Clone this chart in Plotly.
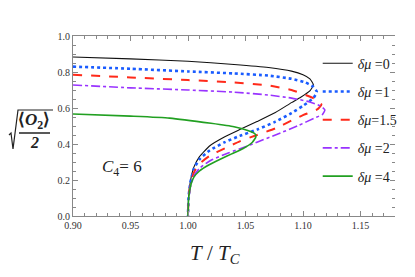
import plotly.graph_objects as go

# ---- data ----
T_dmu0 = [0.90, 0.95, 1.00, 1.04, 1.07, 1.09, 1.100, 1.106, 1.109, 1.106, 1.098, 1.090, 1.076, 1.060, 1.045, 1.032, 1.019, 1.010, 1.005, 1.002, 1.0005, 1.000]
v_dmu0 = [0.883, 0.873, 0.860, 0.842, 0.825, 0.805, 0.785, 0.762, 0.728, 0.695, 0.660, 0.630, 0.575, 0.525, 0.480, 0.440, 0.390, 0.330, 0.270, 0.190, 0.110, 0.0]

T_dmu1 = [0.90, 0.95, 1.00, 1.04, 1.07, 1.09, 1.102, 1.109, 1.112, 1.109, 1.100, 1.090, 1.076, 1.060, 1.045, 1.032, 1.019, 1.010, 1.005, 1.002, 1.0005, 1.000]
v_dmu1 = [0.830, 0.818, 0.803, 0.792, 0.780, 0.762, 0.742, 0.718, 0.690, 0.655, 0.612, 0.572, 0.524, 0.480, 0.445, 0.410, 0.365, 0.315, 0.260, 0.185, 0.105, 0.0]

T_dmu15 = [0.90, 0.95, 1.00, 1.04, 1.07, 1.09, 1.104, 1.112, 1.116, 1.113, 1.100, 1.090, 1.076, 1.060, 1.045, 1.032, 1.019, 1.010, 1.005, 1.002, 1.0005, 1.000]
v_dmu15 = [0.785, 0.770, 0.755, 0.742, 0.725, 0.700, 0.668, 0.645, 0.620, 0.595, 0.560, 0.530, 0.487, 0.450, 0.415, 0.376, 0.335, 0.290, 0.240, 0.170, 0.100, 0.0]

T_dmu2 = [0.90, 0.95, 1.00, 1.04, 1.07, 1.09, 1.105, 1.115, 1.119, 1.117, 1.110, 1.095, 1.076, 1.060, 1.050, 1.035, 1.020, 1.010, 1.005, 1.002, 1.0005, 1.000]
v_dmu2 = [0.728, 0.712, 0.700, 0.688, 0.672, 0.655, 0.635, 0.612, 0.589, 0.565, 0.544, 0.500, 0.450, 0.410, 0.385, 0.350, 0.310, 0.265, 0.220, 0.160, 0.090, 0.0]

T_dmu4 = [0.90, 0.95, 0.984, 1.02, 1.040, 1.052, 1.058, 1.059, 1.056, 1.048, 1.038, 1.028, 1.018, 1.010, 1.005, 1.002, 1.0005, 1.000]
v_dmu4 = [0.567, 0.555, 0.544, 0.515, 0.496, 0.475, 0.458, 0.440, 0.410, 0.375, 0.345, 0.315, 0.283, 0.250, 0.215, 0.160, 0.090, 0.0]

series_names = ["<i>δμ</i> =0", "<i>δμ</i> =1", "<i>δμ</i>=1.5", "<i>δμ</i> =2", "<i>δμ</i> =4"]
x_ticks = [0.90, 0.95, 1.00, 1.05, 1.10, 1.15]
x_ticklabels = ["0.90", "0.95", "1.00", "1.05", "1.10", "1.15"]
y_ticks = [0.0, 0.2, 0.4, 0.6, 0.8, 1.0]
y_ticklabels = ["0.0", "0.2", "0.4", "0.6", "0.8", "1.0"]

styles = [
    dict(color="#111111", width=1.1, dash="solid"),
    dict(color="#1a5cff", width=2.6, dash="dot"),
    dict(color="#ff2a1a", width=2.0, dash="dash"),
    dict(color="#9933ff", width=1.6, dash="dashdot"),
    dict(color="#22a022", width=1.6, dash="solid"),
]

data = [(T_dmu0, v_dmu0), (T_dmu1, v_dmu1), (T_dmu15, v_dmu15), (T_dmu2, v_dmu2), (T_dmu4, v_dmu4)]

SERIF = "Liberation Serif"
OFF = 8  # page body margin of the browser

fig = go.Figure()
for i, ((tx, vy), name, st) in enumerate(zip(data, series_names, styles)):
    fig.add_trace(go.Scatter(
        x=tx, y=vy, mode="lines", name=name, legendgroup=f"g{i}",
        line=dict(color=st["color"], width=st["width"], dash=st["dash"], shape="spline", smoothing=0.5),
    ))

# invisible trace for right-side ticks only
fig.add_trace(go.Scatter(x=[0.9], y=[0], yaxis="y2", mode="markers",
                         marker=dict(opacity=0), showlegend=False, hoverinfo="skip"))

axis_col = "#888888"
fig.update_layout(
    width=415 - OFF, height=277 - OFF,
    margin=dict(l=73 - OFF, r=20, t=36 - OFF, b=61),
    paper_bgcolor="white", plot_bgcolor="white",
    font=dict(family=SERIF, color="#333333"),
    xaxis=dict(range=[0.90, 1.18], tickvals=x_ticks, ticktext=x_ticklabels,
               ticks="inside", ticklen=5, tickcolor=axis_col, tickwidth=1,
               showline=True, linecolor=axis_col, linewidth=1, mirror="ticks",
               showgrid=False, zeroline=False,
               tickfont=dict(family=SERIF, size=10, color="#333333"),
               minor=dict(dtick=0.01, tick0=0.90, ticks="inside", ticklen=3, tickcolor=axis_col, showgrid=False)),
    yaxis=dict(range=[0, 1.0], tickvals=y_ticks, ticktext=y_ticklabels,
               ticks="inside", ticklen=5, tickcolor=axis_col, tickwidth=1,
               showline=True, linecolor=axis_col, linewidth=1,
               showgrid=False, zeroline=False,
               tickfont=dict(family=SERIF, size=10, color="#333333"),
               minor=dict(dtick=0.05, tick0=0, ticks="inside", ticklen=3, tickcolor=axis_col, showgrid=False)),
    yaxis2=dict(range=[0, 1.0], overlaying="y", side="right", tickvals=y_ticks,
                ticks="inside", ticklen=5, tickcolor=axis_col, showticklabels=False,
                showline=False, showgrid=False, zeroline=False,
                minor=dict(dtick=0.05, tick0=0, ticks="inside", ticklen=3, tickcolor=axis_col, showgrid=False)),
    legend=dict(x=0.76, y=0.935, xanchor="left", yanchor="top",
                bgcolor="rgba(255,255,255,0)", borderwidth=0,
                font=dict(family=SERIF, size=14, color="#222222"),
                tracegroupgap=7, itemwidth=30),
    showlegend=True,
)

def px(x):
    return (x - 73) / 322

def py(y):
    return (216 - y) / 180

# annotations
fig.add_annotation(x=0.943, y=0.267, xref="x", yref="y", showarrow=False, xanchor="center", yanchor="middle",
                   text="<i>C</i><sub>4</sub>= 6", font=dict(family=SERIF, size=17, color="#222222"))
fig.add_annotation(x=px(215), y=py(254), xref="paper", yref="paper", showarrow=False,
                   xanchor="center", yanchor="middle",
                   text="<i>T</i> / <i>T</i><sub><i>C</i></sub>", font=dict(family=SERIF, size=21, color="#222222"))

# y-axis label: sqrt(<O2>/2)
fig.add_annotation(x=px(34), y=py(121), xref="paper", yref="paper", showarrow=False,
                   xanchor="center", yanchor="middle",
                   text="<b>⟨<i>O</i><sub>2</sub>⟩</b>", font=dict(family=SERIF, size=17, color="#222222"))
fig.add_annotation(x=px(34), y=py(142), xref="paper", yref="paper", showarrow=False,
                   xanchor="center", yanchor="middle",
                   text="<b><i>2</i></b>", font=dict(family=SERIF, size=16, color="#222222"))
fig.add_shape(type="line", xref="paper", yref="paper", x0=px(19), x1=px(50), y0=py(133), y1=py(133),
              line=dict(color="#222222", width=1.5))
fig.add_shape(type="path", xref="paper", yref="paper",
              path=f"M {px(9)},{py(135)} L {px(11)},{py(133)} L {px(13)},{py(149)} L {px(18)},{py(110)} L {px(53)},{py(110)}",
              line=dict(color="#222222", width=1.2))

fig.write_html("out.html")
